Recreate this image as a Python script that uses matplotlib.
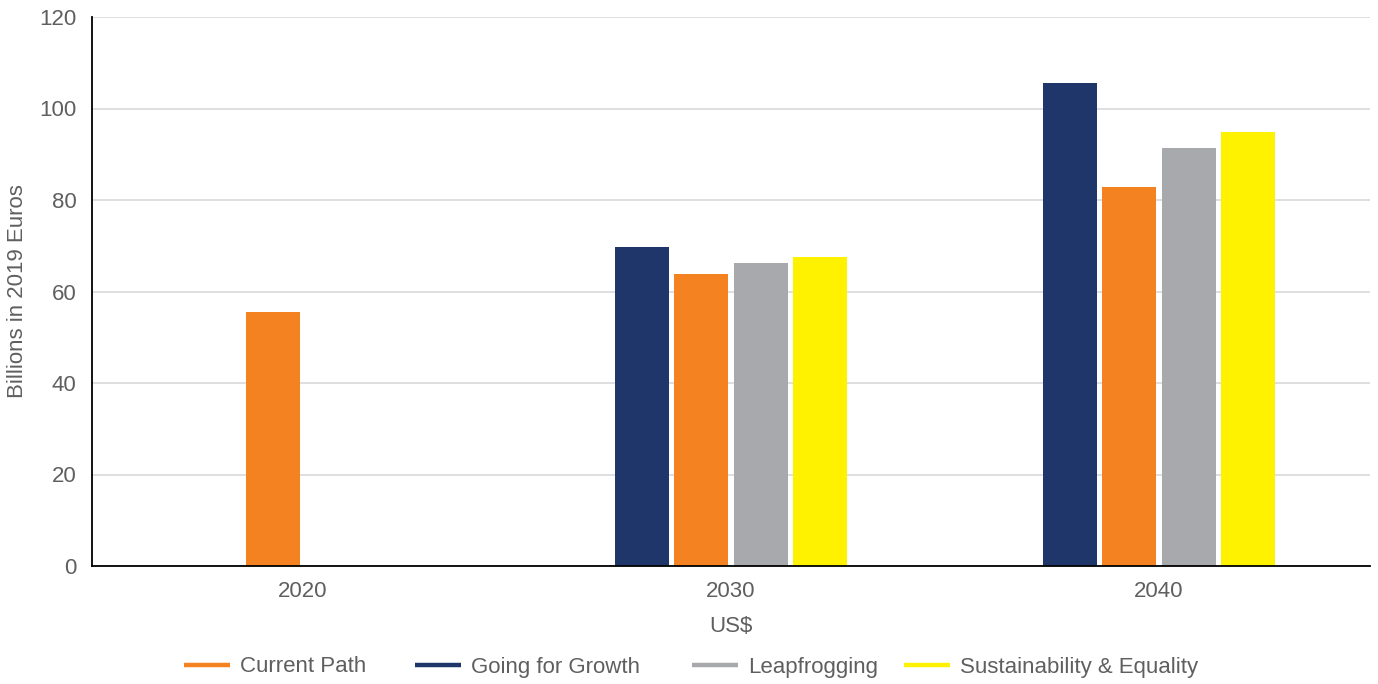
import matplotlib
matplotlib.use("Agg")
import matplotlib.pyplot as plt
import numpy as np
from matplotlib.lines import Line2D

plt.rcParams['font.family'] = ['Liberation Sans', 'DejaVu Sans']

years = ["2020", "2030", "2040"]
series_names = ["Going for Growth", "Current Path", "Leapfrogging", "Sustainability & Equality"]
going_for_growth = [np.nan, 69.7, 105.6]
current_path = [55.5, 63.8, 82.8]
leapfrogging = [np.nan, 66.2, 91.4]
sustainability = [np.nan, 67.5, 94.8]
colors = ["#1F366B", "#F58220", "#A7A9AC", "#FFF200"]
legend_order = ["Current Path", "Going for Growth", "Leapfrogging", "Sustainability & Equality"]
yticks = [0, 20, 40, 60, 80, 100, 120]

W, H = 1378, 684
text_color = "#5f5f5f"
fig = plt.figure(figsize=(W / 100, H / 100), dpi=100)
ax = fig.add_axes([92/W, 1-566/H, (1370-92)/W, (566-17)/H])

x = np.arange(len(years))
step = 0.139
width = 0.126
all_series = [going_for_growth, current_path, leapfrogging, sustainability]
for i, (vals, c) in enumerate(zip(all_series, colors)):
    ax.bar(x + (i - 1.5) * step, vals, width=width, color=c, zorder=3)

ax.set_xlim(-0.493, 2.493)
ax.set_ylim(0, 120)
ax.set_yticks(yticks)
ax.set_xticks(x)
ax.set_xticklabels(years)
ax.tick_params(axis='both', length=0, labelsize=16, labelcolor=text_color)
ax.tick_params(axis='x', pad=11)
ax.tick_params(axis='y', pad=11)
ax.grid(axis='y', color='#d9d9d9', linewidth=1.2, zorder=0)
for s in ['top', 'right']:
    ax.spines[s].set_visible(False)
for s in ['left', 'bottom']:
    ax.spines[s].set_color('black')
    ax.spines[s].set_linewidth(1.3)
    ax.spines[s].set_zorder(4)

ax.set_ylabel("Billions in 2019 Euros", fontsize=16, color=text_color, labelpad=8)
ax.set_xlabel("US$", fontsize=16, color=text_color, labelpad=10)

# legend entries, one per scenario, placed along the bottom
cmap = dict(zip(series_names, colors))
legend_x = [184, 415, 692, 904]
for name, lx in zip(legend_order, legend_x):
    h = Line2D([0], [0], color=cmap[name], lw=3.2, solid_capstyle='butt')
    fig.legend([h], [name], loc='center left', bbox_to_anchor=(lx / W, 1 - 667 / H),
               frameon=False, fontsize=16, labelcolor=text_color, handlelength=2.07,
               handletextpad=0.45, borderpad=0, borderaxespad=0)

fig.savefig("out.png", dpi=100)
